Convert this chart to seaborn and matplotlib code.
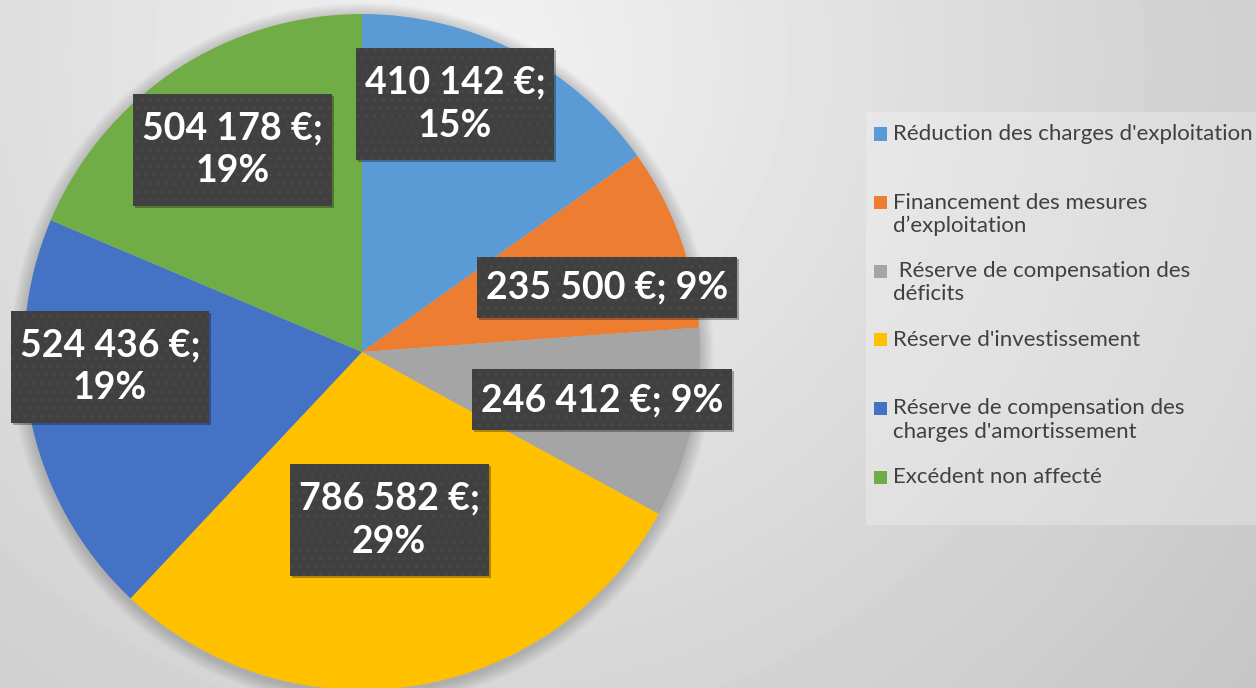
import numpy as np
import matplotlib
matplotlib.use("Agg")
import matplotlib.pyplot as plt
from matplotlib.patches import Rectangle, Circle
import seaborn as sns

# DATA
categories = [
    "Réduction des charges d'exploitation",
    "Financement des mesures\nd’exploitation",
    " Réserve de compensation des\ndéficits",
    "Réserve d'investissement",
    "Réserve de compensation des\ncharges d'amortissement",
    "Excédent non affecté",
]
values = [410142, 235500, 246412, 786582, 524436, 504178]
colors = ["#5B9BD5", "#ED7D31", "#A5A5A5", "#FFC000", "#4472C4", "#70AD47"]

# label box centres, in pie radius units
label_xy = [(0.275, 0.734), (0.725, 0.192), (0.710, -0.142),
            (0.080, -0.497), (-0.746, -0.044), (-0.382, 0.598)]
two_lines = [True, False, False, True, True, True]

W, H = 1256, 688
sns.set_style("white")
plt.rcParams["font.family"] = ["Lato", "DejaVu Sans"]

fig = plt.figure(figsize=(W / 100, H / 100), dpi=100)

# background gradient
bg = fig.add_axes([0, 0, 1, 1])
yy, xx = np.mgrid[0:H, 0:W]
d = np.hypot(xx - 470, yy - 60)
shade = np.clip(0.95 - 1.75e-4 * d, 0, 1)
bg.imshow(shade, cmap="gray", vmin=0, vmax=1, extent=[0, W, H, 0], aspect="auto")
bg.set_xlim(0, W)
bg.set_ylim(H, 0)
bg.axis("off")

# pie
cx, cy, r = 362, 352, 338
ax = fig.add_axes([(cx - r) / W, (H - cy - r) / H, 2 * r / W, 2 * r / H])
for k in range(8, 0, -1):
    ax.add_patch(Circle((0, -0.008), 1 + k * 0.005, color="black",
                        alpha=0.022, lw=0, clip_on=False))
ax.pie(values, colors=colors, startangle=90, counterclock=False,
       wedgeprops=dict(linewidth=0))
ax.set_xlim(-1, 1)
ax.set_ylim(-1, 1)
ax.set_aspect("auto")
ax.axis("off")

# data labels
total = sum(values)
to_fig = ax.transData + fig.transFigure.inverted()
labels = []
for v, (x, y), two in zip(values, label_xy, two_lines):
    amount = f"{v:,}".replace(",", " ") + " €;"
    pct = f"{round(100 * v / total)}%"
    txt = amount + ("\n" if two else " ") + pct
    fx, fy = to_fig.transform((x, y))
    t = fig.text(fx, fy, txt, ha="center", va="center", color="white",
                 fontsize=27, fontweight="bold", linespacing=1.33, zorder=6)
    labels.append((t, two))

fig.canvas.draw()
renderer = fig.canvas.get_renderer()
for t, two in labels:
    bb = t.get_window_extent(renderer)
    bw = bb.width + 18
    bh = 112 if two else 61
    x0 = (bb.x0 + bb.x1) / 2 - bw / 2
    y0 = (bb.y0 + bb.y1) / 2 - bh / 2
    # soft shadow then the dotted dark box
    fig.patches.append(Rectangle(((x0 + 2) / W, (y0 - 2) / H), bw / W, bh / H,
                                 transform=fig.transFigure, fc="black",
                                 alpha=0.3, lw=0, zorder=3))
    fig.patches.append(Rectangle((x0 / W, y0 / H), bw / W, bh / H,
                                 transform=fig.transFigure, fc="#404040",
                                 ec="#484848", lw=0, hatch="..", zorder=4))

# legend
fig.patches.append(Rectangle((866 / W, 1 - 525 / H), 390 / W, 413 / H,
                             transform=fig.transFigure, fc="white",
                             alpha=0.25, lw=0))
for i, (lab, c) in enumerate(zip(categories, colors)):
    ypx = 134 + i * 68.6
    fig.patches.append(Rectangle((874 / W, 1 - (ypx + 6.5) / H), 13 / W, 13 / H,
                                 transform=fig.transFigure, fc=c, lw=0))
    fig.text(893 / W, 1 - (ypx - 10) / H, lab, ha="left", va="top",
             fontsize=16, color="#404040", linespacing=1.2)

fig.savefig("out.png", dpi=100)
